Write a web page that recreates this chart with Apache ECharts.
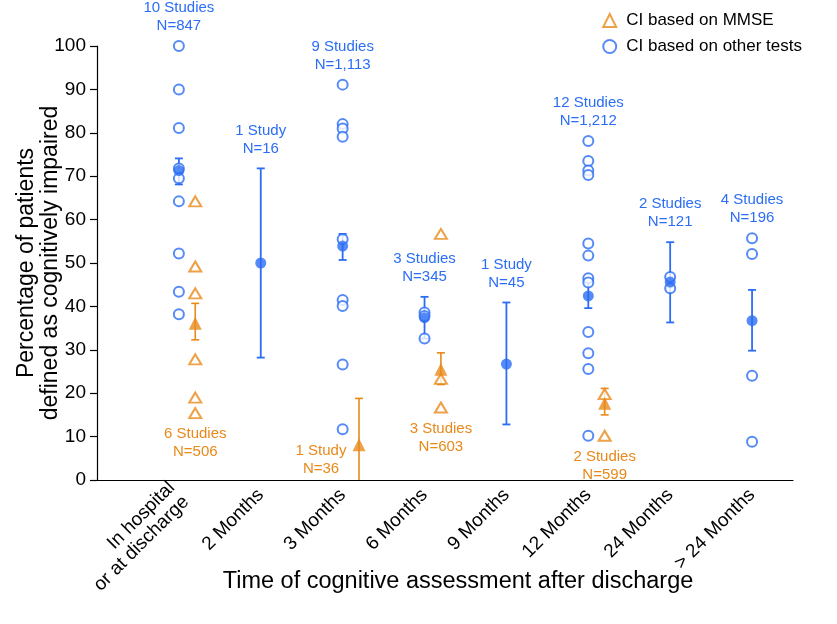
<!DOCTYPE html>
<html>
<head>
<meta charset="utf-8">
<script src="https://cdn.jsdelivr.net/npm/echarts@6/dist/echarts.min.js"></script>
<style>html,body{margin:0;padding:0;background:#fff;}#c{width:837px;height:624px;}</style>
</head>
<body>
<div id="c"></div>
<script>
const categories = ['In hospital\nor at discharge', '2 Months', '3 Months', '6 Months', '9 Months', '12 Months', '24 Months', '> 24 Months'];

// Other tests (blue circles)
const otherValues = [
  [100, 90, 81.1, 71.8, 69.5, 64.2, 52.2, 43.4, 38.2],
  [],
  [91.1, 82.0, 81.0, 79.1, 55.5, 41.5, 40.1, 26.6, 11.7],
  [38.6, 37.8, 32.6],
  [],
  [78.1, 73.5, 71.3, 70.3, 54.5, 51.7, 46.5, 45.5, 34.1, 29.2, 25.6, 10.2],
  [46.8, 44.2],
  [55.7, 52.1, 24.0, 8.8]
];
const otherMean = [71.3, 50, 53.9, 37.4, 26.7, 42.4, 45.6, 36.7];
const otherLow  = [68.1, 28.2, 50.7, 32.6, 12.8, 39.6, 36.3, 29.8];
const otherHigh = [74.1, 71.8, 56.7, 42.2, 40.9, 45.8, 54.8, 43.8];
const otherLabels = ['10 Studies\nN=847', '1 Study\nN=16', '9 Studies\nN=1,113', '3 Studies\nN=345', '1 Study\nN=45', '12 Studies\nN=1,212', '2 Studies\nN=121', '4 Studies\nN=196'];

// MMSE (orange triangles)
const mmseValues = [
  [64.2, 49.2, 43.0, 27.8, 19.0, 15.4],
  [],
  [],
  [56.7, 23.3, 16.7],
  [],
  [19.8, 10.2],
  [],
  []
];
const mmseMean = [36.1, null, 8.1, 25.5, null, 17.7, null, null];
const mmseLow  = [32.3, null, -2.6, 22.0, null, 15.0, null, null];
const mmseHigh = [40.7, null, 18.8, 29.3, null, 21.1, null, null];
const mmseLabels = ['6 Studies\nN=506', '', '1 Study\nN=36', '3 Studies\nN=603', '', '2 Studies\nN=599', '', ''];

const yTicks = [0, 10, 20, 30, 40, 50, 60, 70, 80, 90, 100];

const BLUE = '#2b6df5';
const ORANGE = '#e8891a';
const FONT = 'Liberation Sans, Arial, Helvetica, sans-serif';
const MMSE_SHIFT = 0.2;

const blueOpen = [];
otherValues.forEach((arr, i) => arr.forEach(v => blueOpen.push([i, v])));
const orangeOpen = [];
mmseValues.forEach((arr, i) => arr.forEach(v => orangeOpen.push([i + MMSE_SHIFT, v])));
const blueMeanData = otherMean.map((v, i) => [i, v]);
const orangeMeanData = [];
mmseMean.forEach((v, i) => { if (v !== null) orangeMeanData.push([i + MMSE_SHIFT, v]); });
const blueErr = otherMean.map((v, i) => [i, otherLow[i], otherHigh[i]]);
const orangeErr = [];
mmseMean.forEach((v, i) => { if (v !== null) orangeErr.push([i + MMSE_SHIFT, mmseLow[i], mmseHigh[i]]); });

const blueLabelData = otherLabels.map((t, i) => [i, Math.max(otherHigh[i], ...otherValues[i], otherMean[i])]);
const orangeLabelData = [];
mmseLabels.forEach((t, i) => {
  if (t) {
    const lows = mmseValues[i].slice();
    if (mmseLow[i] >= 0) lows.push(mmseLow[i]);
    lows.push(mmseMean[i]);
    orangeLabelData.push([i + MMSE_SHIFT, Math.min(...lows), i]);
  }
});

function errRender(color, lw) {
  return function (params, api) {
    const x = api.value(0), lo = api.value(1), hi = api.value(2);
    const a = api.coord([x, lo]);
    const b = api.coord([x, hi]);
    const cap = 4;
    const st = { stroke: color, lineWidth: lw };
    return {
      type: 'group',
      children: [
        { type: 'line', shape: { x1: a[0], y1: a[1], x2: b[0], y2: b[1] }, style: st },
        { type: 'line', shape: { x1: a[0] - cap, y1: a[1], x2: a[0] + cap, y2: a[1] }, style: st },
        { type: 'line', shape: { x1: b[0] - cap, y1: b[1], x2: b[0] + cap, y2: b[1] }, style: st }
      ]
    };
  };
}

const chart = echarts.init(document.getElementById('c'), null, { renderer: 'canvas' });
chart.setOption({
  animation: false,
  backgroundColor: '#fff',
  textStyle: { fontFamily: FONT },
  grid: { left: 97, right: 44, top: 46, bottom: 144, outerBoundsMode: 'none' },
  legend: {
    orient: 'vertical',
    right: 30,
    top: 7,
    itemWidth: 13,
    itemHeight: 13,
    itemGap: 9,
    textStyle: { fontSize: 17, color: '#000', fontFamily: FONT, padding: [0, 0, 0, 5] },
    data: [
      { name: 'CI based on MMSE', icon: 'emptyTriangle' },
      { name: 'CI based on other tests', icon: 'emptyCircle' }
    ]
  },
  xAxis: {
    type: 'value',
    min: -1,
    max: 7.5,
    interval: 1,
    name: 'Time of cognitive assessment after discharge',
    nameLocation: 'middle',
    nameGap: 90,
    nameMoveOverlap: false,
    nameTextStyle: { fontSize: 23.5, color: '#000', fontFamily: FONT, padding: [0, 0, 0, 26] },
    axisLine: { show: true, onZero: false, lineStyle: { color: '#000', width: 1.2 } },
    axisTick: { show: false },
    splitLine: { show: false },
    axisLabel: {
      rotate: 45,
      margin: 12,
      fontSize: 19,
      color: '#000',
      fontFamily: FONT,
      lineHeight: 20,
      showMinLabel: false,
      showMaxLabel: false,
      formatter: function (v) {
        const i = Math.round(v);
        return (Math.abs(v - i) < 1e-6 && i >= 0 && i < categories.length) ? categories[i] : '';
      }
    }
  },
  yAxis: {
    type: 'value',
    min: 0,
    max: 100,
    interval: 10,
    name: 'Percentage of patients\ndefined as cognitively impaired',
    nameLocation: 'middle',
    nameGap: 34,
    nameMoveOverlap: false,
    nameRotate: 90,
    nameTextStyle: { fontSize: 23, color: '#000', fontFamily: FONT, lineHeight: 24 },
    axisLine: { show: true, onZero: false, lineStyle: { color: '#000', width: 1.2 } },
    axisTick: { show: true, length: 7, lineStyle: { color: '#000', width: 1.2 } },
    splitLine: { show: false },
    axisLabel: {
      margin: 11,
      fontSize: 19,
      color: '#000',
      fontFamily: FONT,
      customValues: yTicks
    }
  },
  series: [
    {
      type: 'custom',
      name: 'blueErr',
      clip: true,
      renderItem: errRender(BLUE, 1.8),
      data: blueErr,
      z: 2
    },
    {
      type: 'custom',
      name: 'orangeErr',
      clip: true,
      renderItem: errRender(ORANGE, 1.6),
      data: orangeErr,
      z: 2
    },
    {
      type: 'scatter',
      name: 'CI based on other tests',
      symbol: 'emptyCircle',
      symbolSize: 10,
      itemStyle: { color: BLUE, borderColor: BLUE, borderWidth: 1.6 },
      data: blueOpen,
      z: 3
    },
    {
      type: 'scatter',
      name: 'CI based on MMSE',
      symbol: 'emptyTriangle',
      symbolSize: [12, 10],
      itemStyle: { color: ORANGE, borderColor: ORANGE, borderWidth: 1.6 },
      data: orangeOpen,
      z: 3
    },
    {
      type: 'scatter',
      name: 'blueMean',
      symbol: 'circle',
      symbolSize: 11,
      itemStyle: { color: BLUE },
      data: blueMeanData,
      z: 4
    },
    {
      type: 'scatter',
      name: 'orangeMean',
      symbol: 'triangle',
      symbolSize: [13, 13],
      itemStyle: { color: ORANGE },
      data: orangeMeanData,
      z: 4
    },
    {
      type: 'custom',
      name: 'blueLabels',
      renderItem: function (params, api) {
        const p = api.coord([api.value(0), api.value(1)]);
        return {
          type: 'text',
          x: p[0], y: p[1] - 11,
          style: {
            text: otherLabels[params.dataIndex],
            fill: BLUE, font: '15px ' + FONT, lineHeight: 18,
            align: 'center', verticalAlign: 'bottom'
          }
        };
      },
      data: blueLabelData,
      z: 5
    },
    {
      type: 'custom',
      name: 'orangeLabels',
      renderItem: function (params, api) {
        const cat = api.value(2);
        const p = api.coord([api.value(0), api.value(1)]);
        let st = {
          text: mmseLabels[cat], fill: ORANGE, font: '15px ' + FONT, lineHeight: 18,
          align: 'center', verticalAlign: 'top'
        };
        let x = p[0], y = p[1] + 12;
        if (api.value(1) < 10) {
          // label placed at the left of the marker when it sits at the axis
          x = p[0] - 38; y = p[1] - 3;
        }
        return { type: 'text', x: x, y: y, style: st };
      },
      data: orangeLabelData,
      z: 5
    }
  ]
});
</script>
</body>
</html>
